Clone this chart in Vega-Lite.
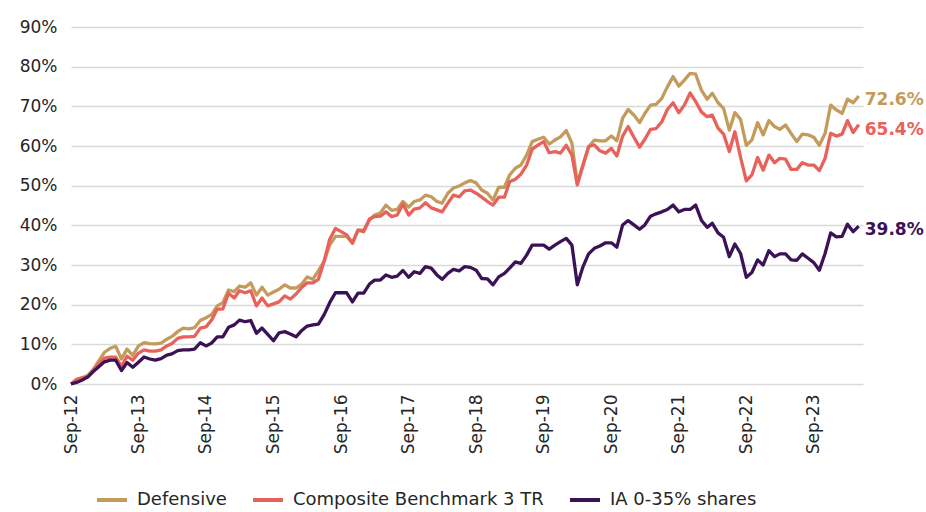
{
"$schema":"https://vega.github.io/schema/vega-lite/v6.json",
"width":792,"height":357,
"autosize":{"type":"none"},
"padding":{"left":71,"top":27,"right":63,"bottom":128},
"background":"white",
"config":{"view":{"stroke":null},"font":"DejaVu Sans"},
"datasets":{
"def":[
{"d":"2012-09","v":0},{"d":"2012-10","v":0.006},{"d":"2012-11","v":0.015},{"d":"2012-12","v":0.022},
{"d":"2013-01","v":0.038},{"d":"2013-02","v":0.06},{"d":"2013-03","v":0.08},{"d":"2013-04","v":0.09},{"d":"2013-05","v":0.095},{"d":"2013-06","v":0.063},{"d":"2013-07","v":0.088},{"d":"2013-08","v":0.072},{"d":"2013-09","v":0.096},{"d":"2013-10","v":0.104},{"d":"2013-11","v":0.102},{"d":"2013-12","v":0.101},
{"d":"2014-01","v":0.103},{"d":"2014-02","v":0.113},{"d":"2014-03","v":0.12},{"d":"2014-04","v":0.132},{"d":"2014-05","v":0.141},{"d":"2014-06","v":0.139},{"d":"2014-07","v":0.142},{"d":"2014-08","v":0.16},{"d":"2014-09","v":0.167},{"d":"2014-10","v":0.175},{"d":"2014-11","v":0.197},{"d":"2014-12","v":0.205},
{"d":"2015-01","v":0.237},{"d":"2015-02","v":0.233},{"d":"2015-03","v":0.247},{"d":"2015-04","v":0.244},{"d":"2015-05","v":0.255},{"d":"2015-06","v":0.224},{"d":"2015-07","v":0.244},{"d":"2015-08","v":0.224},{"d":"2015-09","v":0.232},{"d":"2015-10","v":0.239},{"d":"2015-11","v":0.25},{"d":"2015-12","v":0.242},
{"d":"2016-01","v":0.242},{"d":"2016-02","v":0.252},{"d":"2016-03","v":0.27},{"d":"2016-04","v":0.264},{"d":"2016-05","v":0.285},{"d":"2016-06","v":0.31},{"d":"2016-07","v":0.35},{"d":"2016-08","v":0.372},{"d":"2016-09","v":0.372},{"d":"2016-10","v":0.372},{"d":"2016-11","v":0.355},{"d":"2016-12","v":0.388},
{"d":"2017-01","v":0.388},{"d":"2017-02","v":0.413},{"d":"2017-03","v":0.426},{"d":"2017-04","v":0.431},{"d":"2017-05","v":0.451},{"d":"2017-06","v":0.438},{"d":"2017-07","v":0.44},{"d":"2017-08","v":0.46},{"d":"2017-09","v":0.446},{"d":"2017-10","v":0.46},{"d":"2017-11","v":0.464},{"d":"2017-12","v":0.476},
{"d":"2018-01","v":0.472},{"d":"2018-02","v":0.46},{"d":"2018-03","v":0.456},{"d":"2018-04","v":0.481},{"d":"2018-05","v":0.494},{"d":"2018-06","v":0.499},{"d":"2018-07","v":0.507},{"d":"2018-08","v":0.513},{"d":"2018-09","v":0.507},{"d":"2018-10","v":0.489},{"d":"2018-11","v":0.481},{"d":"2018-12","v":0.464},
{"d":"2019-01","v":0.496},{"d":"2019-02","v":0.496},{"d":"2019-03","v":0.527},{"d":"2019-04","v":0.544},{"d":"2019-05","v":0.552},{"d":"2019-06","v":0.577},{"d":"2019-07","v":0.611},{"d":"2019-08","v":0.617},{"d":"2019-09","v":0.622},{"d":"2019-10","v":0.605},{"d":"2019-11","v":0.615},{"d":"2019-12","v":0.623},
{"d":"2020-01","v":0.639},{"d":"2020-02","v":0.607},{"d":"2020-03","v":0.506},{"d":"2020-04","v":0.552},{"d":"2020-05","v":0.598},{"d":"2020-06","v":0.615},{"d":"2020-07","v":0.613},{"d":"2020-08","v":0.613},{"d":"2020-09","v":0.625},{"d":"2020-10","v":0.613},{"d":"2020-11","v":0.67},{"d":"2020-12","v":0.692},
{"d":"2021-01","v":0.678},{"d":"2021-02","v":0.659},{"d":"2021-03","v":0.682},{"d":"2021-04","v":0.703},{"d":"2021-05","v":0.705},{"d":"2021-06","v":0.72},{"d":"2021-07","v":0.749},{"d":"2021-08","v":0.775},{"d":"2021-09","v":0.751},{"d":"2021-10","v":0.766},{"d":"2021-11","v":0.783},{"d":"2021-12","v":0.781},
{"d":"2022-01","v":0.741},{"d":"2022-02","v":0.718},{"d":"2022-03","v":0.733},{"d":"2022-04","v":0.709},{"d":"2022-05","v":0.695},{"d":"2022-06","v":0.64},{"d":"2022-07","v":0.684},{"d":"2022-08","v":0.667},{"d":"2022-09","v":0.602},{"d":"2022-10","v":0.615},{"d":"2022-11","v":0.659},{"d":"2022-12","v":0.628},
{"d":"2023-01","v":0.664},{"d":"2023-02","v":0.649},{"d":"2023-03","v":0.642},{"d":"2023-04","v":0.653},{"d":"2023-05","v":0.632},{"d":"2023-06","v":0.611},{"d":"2023-07","v":0.63},{"d":"2023-08","v":0.628},{"d":"2023-09","v":0.622},{"d":"2023-10","v":0.602},{"d":"2023-11","v":0.632},{"d":"2023-12","v":0.703},
{"d":"2024-01","v":0.691},{"d":"2024-02","v":0.682},{"d":"2024-03","v":0.718},{"d":"2024-04","v":0.709},{"d":"2024-05","v":0.726}
],
"comp":[
{"d":"2012-09","v":0},{"d":"2012-10","v":0.012},{"d":"2012-11","v":0.016},{"d":"2012-12","v":0.018},
{"d":"2013-01","v":0.035},{"d":"2013-02","v":0.052},{"d":"2013-03","v":0.065},{"d":"2013-04","v":0.068},{"d":"2013-05","v":0.068},{"d":"2013-06","v":0.044},{"d":"2013-07","v":0.07},{"d":"2013-08","v":0.06},{"d":"2013-09","v":0.078},{"d":"2013-10","v":0.086},{"d":"2013-11","v":0.083},{"d":"2013-12","v":0.083},
{"d":"2014-01","v":0.086},{"d":"2014-02","v":0.096},{"d":"2014-03","v":0.102},{"d":"2014-04","v":0.115},{"d":"2014-05","v":0.119},{"d":"2014-06","v":0.119},{"d":"2014-07","v":0.12},{"d":"2014-08","v":0.141},{"d":"2014-09","v":0.144},{"d":"2014-10","v":0.161},{"d":"2014-11","v":0.189},{"d":"2014-12","v":0.189},
{"d":"2015-01","v":0.229},{"d":"2015-02","v":0.217},{"d":"2015-03","v":0.235},{"d":"2015-04","v":0.23},{"d":"2015-05","v":0.235},{"d":"2015-06","v":0.197},{"d":"2015-07","v":0.217},{"d":"2015-08","v":0.197},{"d":"2015-09","v":0.202},{"d":"2015-10","v":0.207},{"d":"2015-11","v":0.222},{"d":"2015-12","v":0.214},
{"d":"2016-01","v":0.227},{"d":"2016-02","v":0.244},{"d":"2016-03","v":0.255},{"d":"2016-04","v":0.255},{"d":"2016-05","v":0.264},{"d":"2016-06","v":0.31},{"d":"2016-07","v":0.365},{"d":"2016-08","v":0.392},{"d":"2016-09","v":0.384},{"d":"2016-10","v":0.376},{"d":"2016-11","v":0.355},{"d":"2016-12","v":0.388},
{"d":"2017-01","v":0.384},{"d":"2017-02","v":0.416},{"d":"2017-03","v":0.422},{"d":"2017-04","v":0.423},{"d":"2017-05","v":0.434},{"d":"2017-06","v":0.422},{"d":"2017-07","v":0.426},{"d":"2017-08","v":0.454},{"d":"2017-09","v":0.426},{"d":"2017-10","v":0.441},{"d":"2017-11","v":0.444},{"d":"2017-12","v":0.457},
{"d":"2018-01","v":0.444},{"d":"2018-02","v":0.439},{"d":"2018-03","v":0.434},{"d":"2018-04","v":0.456},{"d":"2018-05","v":0.476},{"d":"2018-06","v":0.472},{"d":"2018-07","v":0.487},{"d":"2018-08","v":0.489},{"d":"2018-09","v":0.481},{"d":"2018-10","v":0.471},{"d":"2018-11","v":0.46},{"d":"2018-12","v":0.451},
{"d":"2019-01","v":0.471},{"d":"2019-02","v":0.471},{"d":"2019-03","v":0.51},{"d":"2019-04","v":0.516},{"d":"2019-05","v":0.529},{"d":"2019-06","v":0.552},{"d":"2019-07","v":0.592},{"d":"2019-08","v":0.602},{"d":"2019-09","v":0.611},{"d":"2019-10","v":0.583},{"d":"2019-11","v":0.586},{"d":"2019-12","v":0.582},
{"d":"2020-01","v":0.602},{"d":"2020-02","v":0.577},{"d":"2020-03","v":0.502},{"d":"2020-04","v":0.552},{"d":"2020-05","v":0.598},{"d":"2020-06","v":0.603},{"d":"2020-07","v":0.588},{"d":"2020-08","v":0.582},{"d":"2020-09","v":0.594},{"d":"2020-10","v":0.575},{"d":"2020-11","v":0.625},{"d":"2020-12","v":0.649},
{"d":"2021-01","v":0.622},{"d":"2021-02","v":0.597},{"d":"2021-03","v":0.617},{"d":"2021-04","v":0.642},{"d":"2021-05","v":0.644},{"d":"2021-06","v":0.661},{"d":"2021-07","v":0.692},{"d":"2021-08","v":0.709},{"d":"2021-09","v":0.684},{"d":"2021-10","v":0.703},{"d":"2021-11","v":0.734},{"d":"2021-12","v":0.712},
{"d":"2022-01","v":0.686},{"d":"2022-02","v":0.674},{"d":"2022-03","v":0.678},{"d":"2022-04","v":0.645},{"d":"2022-05","v":0.63},{"d":"2022-06","v":0.586},{"d":"2022-07","v":0.636},{"d":"2022-08","v":0.571},{"d":"2022-09","v":0.512},{"d":"2022-10","v":0.527},{"d":"2022-11","v":0.571},{"d":"2022-12","v":0.539},
{"d":"2023-01","v":0.577},{"d":"2023-02","v":0.558},{"d":"2023-03","v":0.569},{"d":"2023-04","v":0.567},{"d":"2023-05","v":0.541},{"d":"2023-06","v":0.541},{"d":"2023-07","v":0.558},{"d":"2023-08","v":0.552},{"d":"2023-09","v":0.552},{"d":"2023-10","v":0.538},{"d":"2023-11","v":0.569},{"d":"2023-12","v":0.632},
{"d":"2024-01","v":0.625},{"d":"2024-02","v":0.63},{"d":"2024-03","v":0.664},{"d":"2024-04","v":0.634},{"d":"2024-05","v":0.654}
],
"ia":[
{"d":"2012-09","v":0},{"d":"2012-10","v":0.004},{"d":"2012-11","v":0.01},{"d":"2012-12","v":0.018},
{"d":"2013-01","v":0.032},{"d":"2013-02","v":0.045},{"d":"2013-03","v":0.056},{"d":"2013-04","v":0.06},{"d":"2013-05","v":0.06},{"d":"2013-06","v":0.034},{"d":"2013-07","v":0.054},{"d":"2013-08","v":0.042},{"d":"2013-09","v":0.055},{"d":"2013-10","v":0.068},{"d":"2013-11","v":0.063},{"d":"2013-12","v":0.06},
{"d":"2014-01","v":0.064},{"d":"2014-02","v":0.073},{"d":"2014-03","v":0.076},{"d":"2014-04","v":0.084},{"d":"2014-05","v":0.086},{"d":"2014-06","v":0.086},{"d":"2014-07","v":0.088},{"d":"2014-08","v":0.104},{"d":"2014-09","v":0.096},{"d":"2014-10","v":0.103},{"d":"2014-11","v":0.119},{"d":"2014-12","v":0.119},
{"d":"2015-01","v":0.143},{"d":"2015-02","v":0.149},{"d":"2015-03","v":0.161},{"d":"2015-04","v":0.157},{"d":"2015-05","v":0.16},{"d":"2015-06","v":0.128},{"d":"2015-07","v":0.141},{"d":"2015-08","v":0.125},{"d":"2015-09","v":0.109},{"d":"2015-10","v":0.129},{"d":"2015-11","v":0.132},{"d":"2015-12","v":0.126},
{"d":"2016-01","v":0.119},{"d":"2016-02","v":0.135},{"d":"2016-03","v":0.146},{"d":"2016-04","v":0.149},{"d":"2016-05","v":0.151},{"d":"2016-06","v":0.175},{"d":"2016-07","v":0.205},{"d":"2016-08","v":0.23},{"d":"2016-09","v":0.23},{"d":"2016-10","v":0.23},{"d":"2016-11","v":0.207},{"d":"2016-12","v":0.229},
{"d":"2017-01","v":0.229},{"d":"2017-02","v":0.252},{"d":"2017-03","v":0.262},{"d":"2017-04","v":0.262},{"d":"2017-05","v":0.275},{"d":"2017-06","v":0.269},{"d":"2017-07","v":0.272},{"d":"2017-08","v":0.286},{"d":"2017-09","v":0.269},{"d":"2017-10","v":0.283},{"d":"2017-11","v":0.279},{"d":"2017-12","v":0.296},
{"d":"2018-01","v":0.292},{"d":"2018-02","v":0.275},{"d":"2018-03","v":0.264},{"d":"2018-04","v":0.279},{"d":"2018-05","v":0.289},{"d":"2018-06","v":0.285},{"d":"2018-07","v":0.296},{"d":"2018-08","v":0.294},{"d":"2018-09","v":0.287},{"d":"2018-10","v":0.266},{"d":"2018-11","v":0.265},{"d":"2018-12","v":0.25},
{"d":"2019-01","v":0.27},{"d":"2019-02","v":0.279},{"d":"2019-03","v":0.292},{"d":"2019-04","v":0.308},{"d":"2019-05","v":0.304},{"d":"2019-06","v":0.325},{"d":"2019-07","v":0.35},{"d":"2019-08","v":0.35},{"d":"2019-09","v":0.35},{"d":"2019-10","v":0.34},{"d":"2019-11","v":0.35},{"d":"2019-12","v":0.359},
{"d":"2020-01","v":0.367},{"d":"2020-02","v":0.35},{"d":"2020-03","v":0.25},{"d":"2020-04","v":0.296},{"d":"2020-05","v":0.328},{"d":"2020-06","v":0.342},{"d":"2020-07","v":0.348},{"d":"2020-08","v":0.356},{"d":"2020-09","v":0.356},{"d":"2020-10","v":0.345},{"d":"2020-11","v":0.401},{"d":"2020-12","v":0.412},
{"d":"2021-01","v":0.401},{"d":"2021-02","v":0.39},{"d":"2021-03","v":0.401},{"d":"2021-04","v":0.423},{"d":"2021-05","v":0.429},{"d":"2021-06","v":0.434},{"d":"2021-07","v":0.44},{"d":"2021-08","v":0.451},{"d":"2021-09","v":0.434},{"d":"2021-10","v":0.44},{"d":"2021-11","v":0.44},{"d":"2021-12","v":0.451},
{"d":"2022-01","v":0.413},{"d":"2022-02","v":0.395},{"d":"2022-03","v":0.405},{"d":"2022-04","v":0.381},{"d":"2022-05","v":0.37},{"d":"2022-06","v":0.321},{"d":"2022-07","v":0.353},{"d":"2022-08","v":0.329},{"d":"2022-09","v":0.269},{"d":"2022-10","v":0.281},{"d":"2022-11","v":0.313},{"d":"2022-12","v":0.30},
{"d":"2023-01","v":0.336},{"d":"2023-02","v":0.321},{"d":"2023-03","v":0.328},{"d":"2023-04","v":0.328},{"d":"2023-05","v":0.313},{"d":"2023-06","v":0.312},{"d":"2023-07","v":0.328},{"d":"2023-08","v":0.317},{"d":"2023-09","v":0.306},{"d":"2023-10","v":0.287},{"d":"2023-11","v":0.329},{"d":"2023-12","v":0.381},
{"d":"2024-01","v":0.371},{"d":"2024-02","v":0.372},{"d":"2024-03","v":0.403},{"d":"2024-04","v":0.384},{"d":"2024-05","v":0.398}
]
},
"encoding":{
"x":{"field":"d","type":"temporal",
 "scale":{"type":"utc","domain":[{"year":2012,"month":9,"date":1,"utc":true},{"year":2024,"month":5,"date":24,"utc":true}]},
 "axis":{"title":null,"format":"%b-%y","labelAngle":270,"labelFontSize":17,"labelColor":"#262626","labelPadding":10,"ticks":false,"domain":false,"grid":false,
  "values":[{"year":2012,"month":9,"date":1,"utc":true},{"year":2013,"month":9,"date":1,"utc":true},{"year":2014,"month":9,"date":1,"utc":true},{"year":2015,"month":9,"date":1,"utc":true},{"year":2016,"month":9,"date":1,"utc":true},{"year":2017,"month":9,"date":1,"utc":true},{"year":2018,"month":9,"date":1,"utc":true},{"year":2019,"month":9,"date":1,"utc":true},{"year":2020,"month":9,"date":1,"utc":true},{"year":2021,"month":9,"date":1,"utc":true},{"year":2022,"month":9,"date":1,"utc":true},{"year":2023,"month":9,"date":1,"utc":true}]}},
"y":{"field":"v","type":"quantitative",
 "scale":{"domain":[0,0.9],"nice":false,"zero":true},
 "axis":{"title":null,"format":".0%","values":[0,0.1,0.2,0.3,0.4,0.5,0.6,0.7,0.8,0.9],"labelFontSize":17,"labelColor":"#262626","labelPadding":14,"ticks":false,"domain":false,"gridColor":"#d9d9d9","gridWidth":1.5}}
},
"layer":[
{"data":{"name":"def"},"layer":[
 {"mark":{"type":"line","strokeWidth":3.3,"strokeJoin":"round"},
  "encoding":{"color":{"datum":"Defensive","type":"nominal",
   "scale":{"domain":["Defensive","Composite Benchmark 3 TR","IA 0-35% shares"],"range":["#C39B5D","#E8615B","#3B1255"]},
   "legend":{"title":null,"orient":"none","direction":"horizontal","legendX":24,"legendY":456,"symbolType":"stroke","symbolStrokeWidth":4,"symbolSize":900,"labelFontSize":18,"labelColor":"#262626","labelOffset":8,"columnPadding":18,"labelLimit":400}}}},
 {"transform":[{"filter":"utcyear(toDate(datum.d))==2024 && utcmonth(toDate(datum.d))==4"}],
  "mark":{"type":"text","align":"left","baseline":"middle","dx":6,"dy":4,"fontSize":17,"fontWeight":"bold","color":"#C39B5D"},
  "encoding":{"text":{"field":"v","type":"quantitative","format":".1%"}}}
]},
{"data":{"name":"comp"},"layer":[
 {"mark":{"type":"line","strokeWidth":3.3,"strokeJoin":"round"},
  "encoding":{"color":{"datum":"Composite Benchmark 3 TR","type":"nominal"}}},
 {"transform":[{"filter":"utcyear(toDate(datum.d))==2024 && utcmonth(toDate(datum.d))==4"}],
  "mark":{"type":"text","align":"left","baseline":"middle","dx":6,"dy":5,"fontSize":17,"fontWeight":"bold","color":"#E8615B"},
  "encoding":{"text":{"field":"v","type":"quantitative","format":".1%"}}}
]},
{"data":{"name":"ia"},"layer":[
 {"mark":{"type":"line","strokeWidth":3.3,"strokeJoin":"round"},
  "encoding":{"color":{"datum":"IA 0-35% shares","type":"nominal"}}},
 {"transform":[{"filter":"utcyear(toDate(datum.d))==2024 && utcmonth(toDate(datum.d))==4"}],
  "mark":{"type":"text","align":"left","baseline":"middle","dx":6,"dy":4,"fontSize":17,"fontWeight":"bold","color":"#3B1255"},
  "encoding":{"text":{"field":"v","type":"quantitative","format":".1%"}}}
]}
]
}
